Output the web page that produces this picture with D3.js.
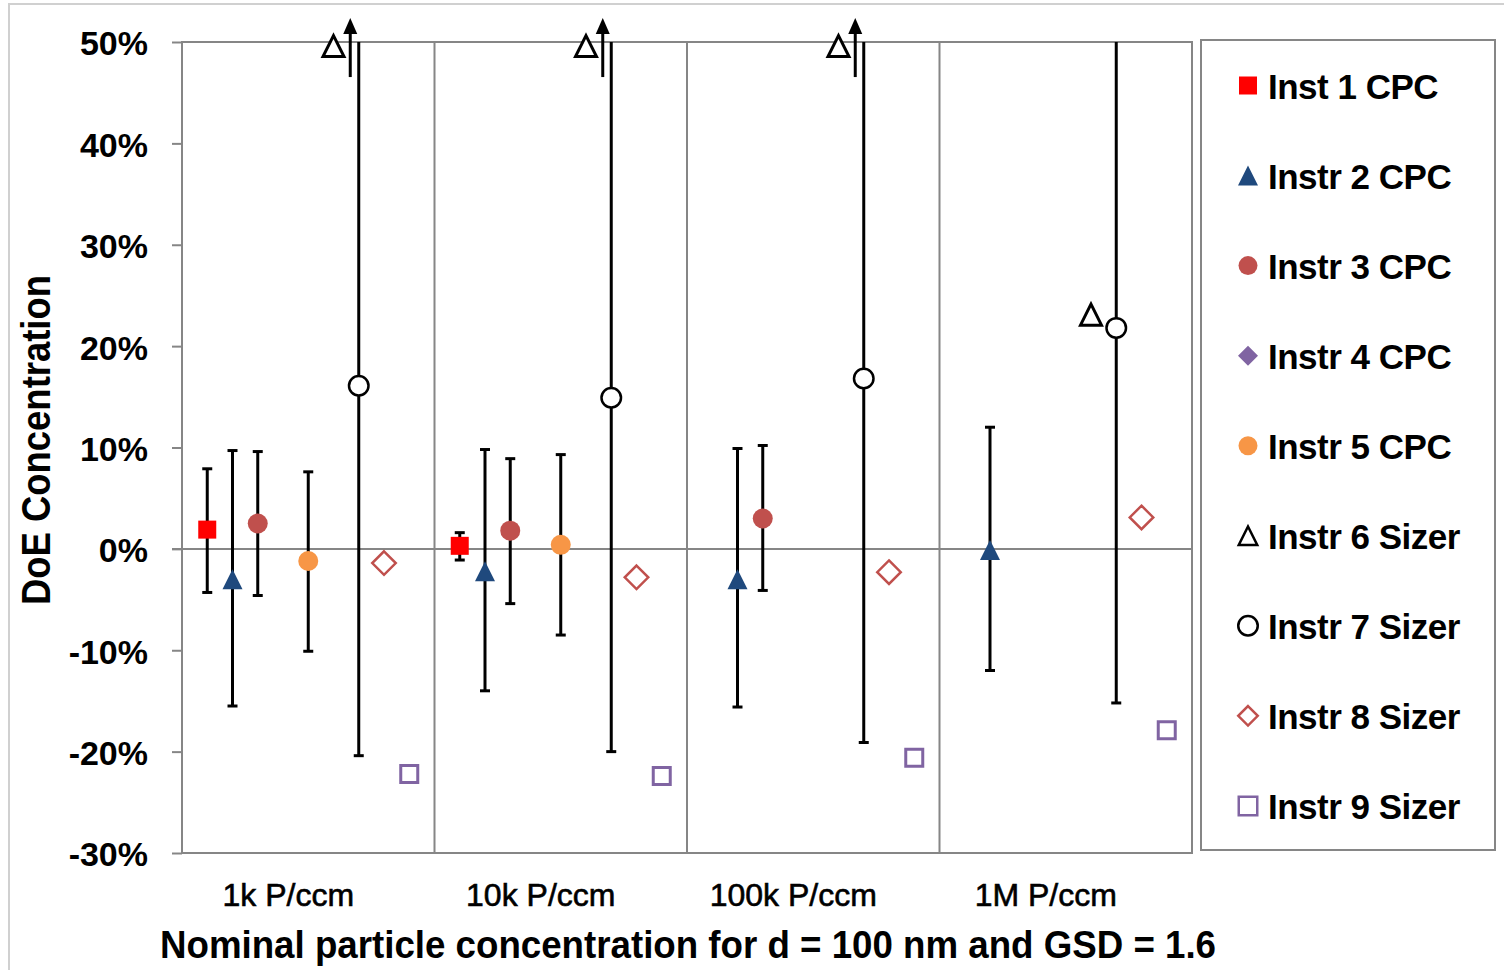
<!DOCTYPE html>
<html>
<head>
<meta charset="utf-8">
<script src="https://cdn.jsdelivr.net/npm/d3@7"></script>
<style>
body { margin: 0; background: #fff; }
svg { display: block; font-family: "Liberation Sans", Arial, sans-serif; }
</style>
</head>
<body>
<script>
var categories = ["1k P/ccm", "10k P/ccm", "100k P/ccm", "1M P/ccm"];
var seriesNames = ["Inst 1 CPC", "Instr 2 CPC", "Instr 3 CPC", "Instr 4 CPC", "Instr 5 CPC",
                   "Instr 6 Sizer", "Instr 7 Sizer", "Instr 8 Sizer", "Instr 9 Sizer"];
var yTicks = [50, 40, 30, 20, 10, 0, -10, -20, -30];

// DoE concentration (%) per category, null = not measured
var inst1 = [1.9, 0.3, null, null];
var inst1Low = [-4.3, -1.1, null, null];
var inst1High = [7.9, 1.6, null, null];
var inst2 = [-3.0, -2.2, -3.0, -0.1];
var inst2Low = [-15.5, -14.0, -15.6, -12.0];
var inst2High = [9.7, 9.8, 9.9, 12.0];
var inst3 = [2.5, 1.8, 3.0, null];
var inst3Low = [-4.6, -5.4, -4.1, null];
var inst3High = [9.6, 8.9, 10.2, null];
var inst4 = [null, null, null, null];
var inst5 = [-1.2, 0.4, null, null];
var inst5Low = [-10.1, -8.5, null, null];
var inst5High = [7.6, 9.3, null, null];
var inst6 = [49.6, 49.6, 49.6, 23.1];   // first three are off the scale (arrow)
var inst7 = [16.1, 14.9, 16.8, 21.8];
var inst7Low = [-20.4, -20.0, -19.1, -15.2];
var inst7High = [60, 60, 60, 60];       // above the top of the axis
var inst8 = [-1.4, -2.8, -2.3, 3.1];
var inst9 = [-22.2, -22.4, -20.6, -17.9];

var series = [
  {values: inst1, low: inst1Low, high: inst1High, shape: "square", size: 18, lsize: 18, fill: "#ff0000", stroke: "none", sw: 0},
  {values: inst2, low: inst2Low, high: inst2High, shape: "triangle", size: 20, lsize: 20, fill: "#1f497d", stroke: "none", sw: 0},
  {values: inst3, low: inst3Low, high: inst3High, shape: "circle", size: 20, lsize: 19, fill: "#c0504d", stroke: "none", sw: 0},
  {values: inst4, shape: "diamond", size: 20, lsize: 20, fill: "#8064a2", stroke: "none", sw: 0},
  {values: inst5, low: inst5Low, high: inst5High, shape: "circle", size: 20, lsize: 19, fill: "#f79646", stroke: "none", sw: 0},
  {values: inst6, shape: "triangle", size: 24, lsize: 21, fill: "#fff", stroke: "#000", sw: 3},
  {values: inst7, low: inst7Low, high: inst7High, shape: "circle", size: 22, lsize: 22, fill: "#fff", stroke: "#000", sw: 2.5},
  {values: inst8, shape: "diamond", size: 26, lsize: 22, fill: "#fff", stroke: "#c0504d", sw: 2.5},
  {values: inst9, shape: "square", size: 20, lsize: 21, fill: "#fff", stroke: "#8064a2", sw: 3}
];
series.forEach(function (s, i) { s.name = seriesNames[i]; });

var width = 1504, height = 970;
var plotLeft = 182, plotRight = 1192, plotTop = 42, plotBottom = 853;

var svg = d3.select("body").append("svg")
    .attr("width", width)
    .attr("height", height);

// outer chart frame
svg.append("rect")
    .attr("x", 9).attr("y", 4).attr("width", 1600).attr("height", 1100)
    .attr("fill", "none").attr("stroke", "#d0d0d0").attr("stroke-width", 2);

var x = d3.scaleBand().domain(categories).range([plotLeft, plotRight]).padding(0);
var xs = d3.scalePoint().domain(seriesNames)
    .range([x.bandwidth() * 0.1, x.bandwidth() * 0.9]);
var y = d3.scaleLinear().domain([-30, 50]).range([plotBottom, plotTop]);

function shapePath(shape, size, sw) {
  var h = (size - sw) / 2;
  if (shape === "square") return "M" + (-h) + "," + (-h) + "H" + h + "V" + h + "H" + (-h) + "Z";
  if (shape === "triangle") return "M0," + (-h) + "L" + h + "," + h + "L" + (-h) + "," + h + "Z";
  if (shape === "diamond") return "M0," + (-h) + "L" + h + ",0L0," + h + "L" + (-h) + ",0Z";
  var p = d3.path();
  p.arc(0, 0, h, 0, 2 * Math.PI);
  p.closePath();
  return p.toString();
}

// plot frame and category separators
svg.append("rect")
    .attr("x", plotLeft).attr("y", plotTop)
    .attr("width", plotRight - plotLeft).attr("height", plotBottom - plotTop)
    .attr("fill", "none").attr("stroke", "#868686").attr("stroke-width", 2);

svg.selectAll(".sep").data(categories.slice(1)).enter().append("line")
    .attr("x1", function (d) { return x(d); }).attr("x2", function (d) { return x(d); })
    .attr("y1", plotTop).attr("y2", plotBottom)
    .attr("stroke", "#868686").attr("stroke-width", 2);

// y axis
var yAxis = d3.axisLeft(y)
    .tickValues(yTicks)
    .tickSize(10)
    .tickPadding(24)
    .tickFormat(function (d) { return (d < 0 ? "-" : "") + Math.abs(d) + "%"; });

var ya = svg.append("g").attr("transform", "translate(" + plotLeft + ",0)").call(yAxis);
ya.select(".domain").remove();
ya.selectAll("line").attr("stroke", "#868686").attr("stroke-width", 2);
ya.selectAll("text")
    .attr("dy", "0.38em")
    .attr("fill", "#000")
    .style("font-size", "34px")
    .style("font-weight", "bold")
    .style("font-family", "'Liberation Sans', Arial, sans-serif");

// zero line
svg.append("line")
    .attr("x1", plotLeft - 10).attr("x2", plotRight)
    .attr("y1", y(0)).attr("y2", y(0))
    .attr("stroke", "#868686").attr("stroke-width", 2);

// flatten points
var points = [];
series.forEach(function (s) {
  s.values.forEach(function (v, i) {
    if (v === null) return;
    points.push({s: s, cat: categories[i], v: v,
                 lo: s.low ? s.low[i] : null, hi: s.high ? s.high[i] : null});
  });
});

function px(d) { return x(d.cat) + xs(d.s.name); }

svg.append("clipPath").attr("id", "plotclip").append("rect")
    .attr("x", plotLeft).attr("y", plotTop)
    .attr("width", plotRight - plotLeft).attr("height", plotBottom - plotTop);

// error bars
var bars = svg.append("g").attr("clip-path", "url(#plotclip)");
var withErr = points.filter(function (d) { return d.lo !== null; });

bars.selectAll(".stem").data(withErr).enter().append("line")
    .attr("x1", px).attr("x2", px)
    .attr("y1", function (d) { return y(d.hi); })
    .attr("y2", function (d) { return y(d.lo); })
    .attr("stroke", "#000").attr("stroke-width", 3);

bars.selectAll(".capHi").data(withErr).enter().append("line")
    .attr("x1", function (d) { return px(d) - 5; }).attr("x2", function (d) { return px(d) + 5; })
    .attr("y1", function (d) { return y(d.hi); }).attr("y2", function (d) { return y(d.hi); })
    .attr("stroke", "#000").attr("stroke-width", 3);

bars.selectAll(".capLo").data(withErr).enter().append("line")
    .attr("x1", function (d) { return px(d) - 5; }).attr("x2", function (d) { return px(d) + 5; })
    .attr("y1", function (d) { return y(d.lo); }).attr("y2", function (d) { return y(d.lo); })
    .attr("stroke", "#000").attr("stroke-width", 3);

// off-scale arrows next to Instr 6
var offScale = points.filter(function (d) { return d.s.name === seriesNames[5] && d.v > 49; });
var arrows = svg.append("g");
offScale.forEach(function (d) {
  var ax = x(d.cat) + xs(seriesNames[6]) - 8.5;
  var ay = y(d.v);
  arrows.append("line")
      .attr("x1", ax).attr("x2", ax)
      .attr("y1", ay + 31).attr("y2", ay - 14)
      .attr("stroke", "#000").attr("stroke-width", 3);
  arrows.append("path")
      .attr("d", "M" + (ax - 7) + "," + (ay - 12) + "L" + (ax + 7) + "," + (ay - 12) + "L" + ax + "," + (ay - 28) + "Z")
      .attr("fill", "#000");
});

// markers
svg.append("g").selectAll("path").data(points).enter().append("path")
    .attr("transform", function (d) { return "translate(" + px(d) + "," + y(d.v) + ")"; })
    .attr("d", function (d) { return shapePath(d.s.shape, d.s.size, d.s.sw); })
    .attr("fill", function (d) { return d.s.fill; })
    .attr("stroke", function (d) { return d.s.stroke; })
    .attr("stroke-width", function (d) { return d.s.sw; });

// category labels
svg.selectAll(".cat").data(categories).enter().append("text")
    .attr("x", function (d) { return x(d) + x.bandwidth() / 2 - 20; })
    .attr("y", 906)
    .attr("text-anchor", "middle")
    .style("font-size", "32px")
    .attr("stroke", "#000").attr("stroke-width", 0.6)
    .text(function (d) { return d; });

// axis titles
svg.append("text")
    .attr("x", 688).attr("y", 958)
    .attr("text-anchor", "middle")
    .attr("textLength", 1056).attr("lengthAdjust", "spacingAndGlyphs")
    .style("font-size", "38px").style("font-weight", "bold")
    .text("Nominal particle concentration for d = 100 nm and GSD = 1.6");

svg.append("text")
    .attr("transform", "translate(50,440) rotate(-90)")
    .attr("text-anchor", "middle")
    .attr("textLength", 330).attr("lengthAdjust", "spacingAndGlyphs")
    .style("font-size", "40px").style("font-weight", "bold")
    .text("DoE Concentration");

// legend
svg.append("rect")
    .attr("x", 1201).attr("y", 40).attr("width", 294).attr("height", 810)
    .attr("fill", "#fff").attr("stroke", "#868686").attr("stroke-width", 2);

var legend = svg.selectAll(".leg").data(series).enter().append("g")
    .attr("transform", function (d, i) { return "translate(1248," + (98.5 + i * 90.05) + ")"; });

legend.append("path")
    .attr("transform", "translate(0,-13)")
    .attr("d", function (d) { return shapePath(d.shape, d.lsize, d.sw > 0 ? Math.min(d.sw, 2.5) : 0); })
    .attr("fill", function (d) { return d.fill; })
    .attr("stroke", function (d) { return d.stroke; })
    .attr("stroke-width", function (d) { return d.sw > 0 ? Math.min(d.sw, 2.5) : 0; });

legend.append("text")
    .attr("x", 20)
    .style("font-size", "35px").style("font-weight", "bold")
    .style("letter-spacing", "-0.5px")
    .text(function (d) { return d.name; });
</script>
</body>
</html>
